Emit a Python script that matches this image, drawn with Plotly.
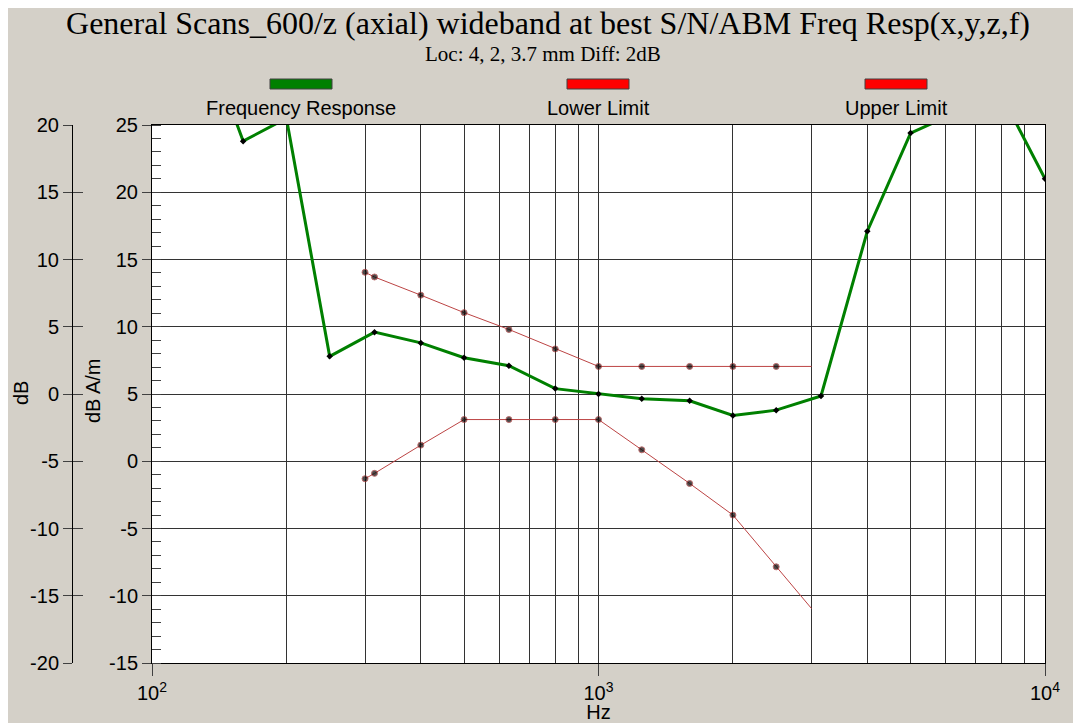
import plotly.graph_objects as go

# frequency response, dB (normalised at 1 kHz)
resp_hz = [125, 160, 200, 250, 315, 400, 500, 630, 800, 1000, 1250, 1600, 2000, 2500, 3150, 4000, 5000, 6300, 8000, 10000]
resp_db = [28.5, 18.8, 20.5, 2.8, 4.6, 3.8, 2.7, 2.1, 0.4, 0.0, -0.35, -0.5, -1.6, -1.2, -0.15, 12.1, 19.4, 20.9, 22.2, 16.0]

# tolerance limits, dB
limit_hz = [300, 315, 400, 500, 630, 800, 1000, 1250, 1600, 2000, 2500, 3000]
upper_db = [9.05, 8.7, 7.35, 6.05, 4.8, 3.35, 2.05, 2.05, 2.05, 2.05, 2.05, 2.05]
lower_db = [-6.3, -5.9, -3.8, -1.9, -1.9, -1.9, -1.9, -4.15, -6.65, -9.0, -12.85, -15.95]

series_names = ['Frequency Response', 'Lower Limit', 'Upper Limit']
series_colors = ['#008000', '#ff0000', '#ff0000']

x_ticks = [100, 1000, 10000]
x_ticktext = ['10<sup>2</sup>', '10<sup>3</sup>', '10<sup>4</sup>']
x_minor = [200, 300, 400, 500, 600, 700, 800, 900, 2000, 3000, 4000, 5000, 6000, 7000, 8000, 9000]

db_ticks = [-20, -15, -10, -5, 0, 5, 10, 15, 20]
db_ticktext = ['-20', '-15', '-10', '-5', '0', '5', '10', '15', '20']
am_ticks = [-15, -10, -5, 0, 5, 10, 15, 20, 25]
am_ticktext = ['-15', '-10', '-5', '0', '5', '10', '15', '20', '25']

# page body has an 8px margin, so the figure is shrunk by that much
OFF = 8
W, H = 1081 - OFF, 723 - OFF
L, R, T, B = 0, 36, 125 - OFF, 60
PW = W - L - R
PH = H - T - B
BG = '#d4d0c8'
GRID = '#333333'
SANS = 'Liberation Sans, Arial, sans-serif'
SERIF = 'Liberation Serif, Times New Roman, serif'


def px(p):
    # reference pixel x -> paper x
    return (p - OFF - L) / PW


def py(p):
    # reference pixel y -> paper y
    return (H - B - (p - OFF)) / PH


fig = go.Figure()

fig.add_trace(go.Scatter(
    x=resp_hz, y=resp_db, mode='lines+markers', name=series_names[0],
    line=dict(color='#008000', width=3),
    marker=dict(color='black', size=5, symbol='diamond'),
))
for name, vals in [(series_names[1], lower_db), (series_names[2], upper_db)]:
    sizes = [6] * (len(vals) - 1) + [0]
    fig.add_trace(go.Scatter(
        x=limit_hz, y=vals, mode='lines+markers', name=name,
        line=dict(color='#bc4444', width=1),
        marker=dict(color='black', size=sizes, symbol='circle', line=dict(color='#a03030', width=1)),
    ))
# empty traces so the overlaid axes get drawn
for ax in ['y2', 'y3']:
    fig.add_trace(go.Scatter(x=[], y=[], yaxis=ax, hoverinfo='skip', showlegend=False))

# legend: coloured bar above the name
for name, col, cx in zip(series_names, series_colors, [301, 598, 896]):
    fig.add_shape(type='rect', xref='paper', yref='paper',
                  x0=px(cx - 31), x1=px(cx + 31), y0=py(89), y1=py(79),
                  fillcolor=col, line=dict(color='#404040', width=1))
    fig.add_annotation(text=name, xref='paper', yref='paper', x=px(cx), y=py(108),
                       xanchor='center', yanchor='middle', showarrow=False,
                       font=dict(family=SANS, size=20, color='black'))

fig.add_annotation(text='Loc: 4, 2, 3.7 mm Diff: 2dB', xref='paper', yref='paper',
                   x=px(543), y=py(54), xanchor='center', yanchor='middle', showarrow=False,
                   font=dict(family=SERIF, size=21, color='black'))
fig.add_annotation(text='dB', xref='paper', yref='paper', x=px(8), y=py(393), textangle=-90,
                   xanchor='left', yanchor='middle', showarrow=False,
                   font=dict(family=SANS, size=20, color='black'))
fig.add_annotation(text='dB A/m', xref='paper', yref='paper', x=px(93), y=py(391), textangle=-90,
                   xanchor='center', yanchor='middle', showarrow=False,
                   font=dict(family=SANS, size=20, color='black'))

fig.update_layout(
    template='none',
    width=W, height=H,
    margin=dict(l=L, r=R, t=T, b=B, pad=0),
    paper_bgcolor=BG, plot_bgcolor='white',
    showlegend=False,
    font=dict(family=SANS, size=20, color='black'),
    title=dict(text='General Scans_600/z (axial) wideband at best S/N/ABM Freq Resp(x,y,z,f)',
               x=(548 - OFF) / W, xanchor='center', y=1 - (23 - OFF) / H, yanchor='middle',
               xref='container', yref='container',
               font=dict(family=SERIF, size=32, color='black')),
    xaxis=dict(
        type='log', range=[2, 4], domain=[px(152), 1],
        tickmode='array', tickvals=x_ticks, ticktext=x_ticktext,
        ticks='outside', ticklen=12, tickcolor='#404040', tickfont=dict(size=20),
        showgrid=True, gridcolor=GRID, gridwidth=1,
        minor=dict(tickmode='array', tickvals=x_minor, ticks='', showgrid=True, gridcolor=GRID, gridwidth=1),
        showline=True, linecolor='black', linewidth=1, mirror=True, zeroline=False,
        title=dict(text='Hz', standoff=1, font=dict(size=20)), automargin=False,
    ),
    # outer axis: dB (carries the data)
    yaxis=dict(
        anchor='free', position=px(72), side='left',
        range=[-20, 20], tickmode='array', tickvals=db_ticks, ticktext=db_ticktext,
        ticks='outside', ticklen=9, tickcolor='#404040', tickfont=dict(size=20),
        showgrid=False, showline=True, linecolor='black', linewidth=1, zeroline=False, automargin=False,
    ),
    # inner axis: dB A/m with the grid
    yaxis2=dict(
        overlaying='y', anchor='x', side='left',
        range=[-15, 25], tickmode='array', tickvals=am_ticks, ticktext=am_ticktext,
        ticks='outside', ticklen=9, tickcolor='#404040', tickfont=dict(size=20),
        showgrid=True, gridcolor=GRID, gridwidth=1,
        minor=dict(dtick=1, ticks='inside', ticklen=9, tickcolor='#404040', showgrid=False),
        showline=True, linecolor='black', linewidth=1, mirror=True, zeroline=False, automargin=False,
    ),
    # inside half of the outer axis ticks
    yaxis3=dict(
        overlaying='y', anchor='free', position=px(72), side='left',
        range=[-20, 20], tickmode='array', tickvals=db_ticks,
        ticks='inside', ticklen=10, tickcolor='#404040', showticklabels=False,
        showgrid=False, showline=False, zeroline=False, automargin=False,
    ),
)

fig.write_html('out.html')
